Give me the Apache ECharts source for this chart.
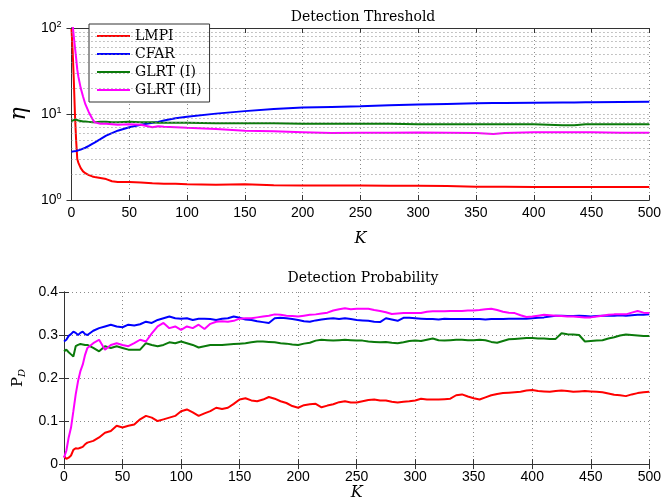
<!DOCTYPE html>
<html>
<head>
<meta charset="utf-8">
<script src="https://cdn.jsdelivr.net/npm/echarts@6/dist/echarts.min.js"></script>
<style>html,body{margin:0;padding:0;background:#fff}#c{width:664px;height:502px}</style>
</head>
<body>
<div id="c"></div>
<script>
// ---------- data ----------
const seriesNames = ['LMPI', 'CFAR', 'GLRT (I)', 'GLRT (II)'];
const titles = ['Detection Threshold', 'Detection Probability'];
const xTicks = [0, 50, 100, 150, 200, 250, 300, 350, 400, 450, 500];
const yTopTicks = [1, 10, 100];
const yTopMinor = [2, 3, 4, 5, 6, 7, 8, 9, 20, 30, 40, 50, 60, 70, 80, 90];
const yBotTicks = [0, 0.1, 0.2, 0.3, 0.4];

// top plot (threshold eta, log scale)
const kTop = [0,1,2,3,4,5,6,8,10,12,15,18,20,25,30,35,40,50,60,70,75,80,90,100,125,150,175,200,225,250,275,300,325,350,365,375,400,425,435,445,450,475,500];
const etaLMPI = [98,55,25,10,5,3.0,2.7,2.35,2.15,2.05,1.95,1.88,1.85,1.8,1.75,1.65,1.62,1.62,1.6,1.57,1.56,1.55,1.54,1.52,1.5,1.52,1.48,1.47,1.47,1.47,1.46,1.46,1.45,1.43,1.43,1.43,1.42,1.42,1.42,1.42,1.42,1.42,1.42];
const etaCFAR = [3.65,3.66,3.68,3.7,3.72,3.75,3.78,3.85,3.95,4.05,4.25,4.5,4.65,5.1,5.6,6.0,6.4,7.0,7.5,7.9,8.1,8.4,8.9,9.3,10.1,10.8,11.4,11.9,12.1,12.3,12.6,12.9,13.1,13.3,13.4,13.4,13.5,13.6,13.6,13.7,13.7,13.8,13.9];
const etaGLRT1 = [8.3,8.4,8.5,8.4,8.6,8.5,8.4,8.3,8.2,8.2,8.1,8.0,8.0,8.1,8.1,8.0,8.0,8.1,8.0,8.0,7.9,7.9,7.9,7.9,7.8,7.8,7.8,7.7,7.7,7.7,7.7,7.6,7.6,7.6,7.6,7.6,7.6,7.4,7.4,7.6,7.6,7.6,7.6];
const etaGLRT2 = [130,110,80,60,45,33,27,20,16,13,10.5,8.8,8.0,7.7,7.7,7.6,7.5,7.6,7.5,7.0,7.2,7.1,7.0,6.9,6.7,6.4,6.3,6.15,6.0,6.05,6.05,6.1,6.05,6.0,5.85,6.0,6.15,6.15,6.15,6.15,6.15,6.05,6.05];

// bottom plot (detection probability)
const kBot = [0,2,4,6,8,10,12,14,16,18,
  20,25,30,35,40,45,50,55,60,65,
  70,75,80,85,90,95,100,105,110,115,
  120,125,130,135,140,145,150,155,160,165,
  170,175,180,185,190,195,200,205,210,215,
  220,225,230,235,240,245,250,255,260,265,
  270,275,280,285,290,295,300,305,310,315,
  320,325,330,335,340,345,350,355,360,365,
  370,375,380,385,390,395,400,405,410,415,
  420,425,430,435,440,445,450,455,460,465,
  470,475,480,485,490,495,500];
const pdLMPI = [0.019,0.012,0.015,0.020,0.033,0.037,0.036,0.038,0.040,0.046,
  0.050,0.054,0.062,0.073,0.077,0.089,0.085,0.089,0.092,0.104,
  0.112,0.108,0.100,0.104,0.108,0.112,0.123,0.127,0.120,0.112,
  0.118,0.123,0.131,0.128,0.131,0.140,0.150,0.153,0.148,0.146,
  0.150,0.156,0.152,0.146,0.142,0.135,0.131,0.137,0.139,0.140,
  0.132,0.136,0.139,0.144,0.146,0.143,0.143,0.146,0.149,0.150,
  0.148,0.148,0.145,0.143,0.145,0.146,0.148,0.152,0.150,0.150,
  0.150,0.151,0.152,0.160,0.162,0.157,0.153,0.150,0.155,0.160,
  0.163,0.165,0.166,0.167,0.168,0.171,0.172,0.170,0.169,0.168,
  0.170,0.171,0.170,0.168,0.169,0.170,0.169,0.168,0.167,0.164,
  0.161,0.160,0.158,0.162,0.165,0.167,0.168];
const pdCFAR = [0.285,0.289,0.298,0.302,0.308,0.305,0.300,0.305,0.308,0.302,
  0.300,0.310,0.316,0.320,0.324,0.320,0.318,0.324,0.322,0.325,
  0.331,0.328,0.335,0.339,0.343,0.339,0.338,0.339,0.335,0.338,
  0.338,0.337,0.335,0.338,0.339,0.343,0.340,0.336,0.335,0.332,
  0.330,0.328,0.339,0.340,0.339,0.337,0.335,0.332,0.331,0.334,
  0.336,0.338,0.339,0.337,0.339,0.337,0.335,0.334,0.333,0.331,
  0.330,0.339,0.336,0.333,0.340,0.340,0.339,0.338,0.337,0.337,
  0.336,0.338,0.337,0.337,0.337,0.337,0.337,0.337,0.336,0.337,
  0.337,0.337,0.338,0.338,0.338,0.338,0.339,0.340,0.341,0.343,
  0.345,0.345,0.344,0.344,0.345,0.344,0.343,0.344,0.345,0.345,
  0.345,0.346,0.345,0.346,0.347,0.347,0.348];
const pdGLRT1 = [0.262,0.266,0.260,0.255,0.250,0.274,0.277,0.279,0.278,0.277,
  0.277,0.270,0.262,0.274,0.270,0.274,0.270,0.266,0.266,0.266,
  0.281,0.277,0.274,0.277,0.283,0.281,0.285,0.281,0.277,0.271,
  0.274,0.277,0.277,0.277,0.278,0.279,0.280,0.281,0.283,0.285,
  0.285,0.284,0.283,0.281,0.280,0.278,0.277,0.280,0.282,0.287,
  0.289,0.288,0.287,0.288,0.289,0.288,0.287,0.287,0.285,0.284,
  0.283,0.284,0.282,0.281,0.283,0.286,0.287,0.286,0.289,0.292,
  0.288,0.287,0.288,0.289,0.289,0.288,0.288,0.289,0.288,0.284,
  0.282,0.286,0.290,0.291,0.292,0.293,0.293,0.292,0.292,0.291,
  0.291,0.304,0.302,0.301,0.300,0.285,0.286,0.287,0.288,0.292,
  0.295,0.299,0.301,0.300,0.299,0.298,0.298];
const pdGLRT2 = [0.015,0.031,0.062,0.085,0.123,0.162,0.193,0.216,0.231,0.254,
  0.270,0.281,0.289,0.266,0.277,0.281,0.277,0.274,0.281,0.289,
  0.285,0.304,0.320,0.328,0.316,0.320,0.312,0.320,0.316,0.324,
  0.314,0.326,0.331,0.332,0.331,0.333,0.338,0.339,0.339,0.341,
  0.343,0.345,0.348,0.347,0.345,0.344,0.343,0.345,0.347,0.348,
  0.350,0.352,0.357,0.360,0.362,0.360,0.361,0.361,0.361,0.358,
  0.356,0.353,0.349,0.350,0.351,0.351,0.351,0.351,0.354,0.355,
  0.355,0.355,0.356,0.356,0.356,0.357,0.357,0.358,0.360,0.361,
  0.358,0.354,0.352,0.351,0.346,0.342,0.343,0.345,0.347,0.346,
  0.345,0.344,0.343,0.343,0.342,0.341,0.341,0.343,0.345,0.347,
  0.348,0.348,0.348,0.352,0.356,0.352,0.351];

// ---------- styling ----------
const colors = ['#ff0000', '#0000ff', '#0b7a0b', '#ff00ff'];
const SERIF = '"DejaVu Serif", "Liberation Serif", serif';
const SANS = '"Liberation Sans", Arial, sans-serif';
const dotted = { color: '#8a8a8a', type: [1, 3], width: 1 };
const gridLine = { show: true, lineStyle: dotted };
const axisLineStyle = { show: true, lineStyle: { color: '#333', width: 1 } };
const tickIn = { show: true, inside: true, length: 5, lineStyle: { color: '#333' } };

const topData = [etaLMPI, etaCFAR, etaGLRT1, etaGLRT2];
const botData = [pdLMPI, pdCFAR, pdGLRT1, pdGLRT2];

function xAx(grid, pos, main, nameGap) {
  return {
    type: 'value', gridIndex: grid, position: pos, min: xTicks[0], max: xTicks[xTicks.length - 1], interval: 50,
    axisLine: axisLineStyle, axisTick: tickIn,
    axisLabel: main ? { show: true, color: '#000', fontSize: 14, fontFamily: SANS, margin: 6 } : { show: false },
    splitLine: main ? gridLine : { show: false },
    name: main ? 'K' : '', nameLocation: 'middle', nameGap: nameGap,
    nameTextStyle: { fontFamily: SERIF, fontStyle: 'italic', fontSize: 16, color: '#000' }
  };
}

const option = {
  animation: false,
  backgroundColor: '#fff',
  title: [
    { text: titles[0], left: 358, top: 5, textAlign: 'center',
      textStyle: { fontFamily: SERIF, fontWeight: 'normal', fontSize: 14, color: '#000' } },
    { text: titles[1], left: 358, top: 266, textAlign: 'center',
      textStyle: { fontFamily: SERIF, fontWeight: 'normal', fontSize: 14, color: '#000' } }
  ],
  legend: {
    data: seriesNames, orient: 'vertical', left: 89, top: 24,
    icon: 'rect', itemWidth: 33, itemHeight: 2, itemGap: 2,
    padding: [4, 8, 4, 8],
    backgroundColor: '#fff', borderColor: '#333', borderWidth: 1,
    textStyle: { fontFamily: SERIF, fontSize: 14, color: '#000', lineHeight: 16 }
  },
  grid: [
    { left: 64, top: 28, width: 588, height: 172, containLabel: false },
    { left: 64, top: 292, width: 588, height: 173, containLabel: false }
  ],
  xAxis: [
    xAx(0, 'bottom', true, 31),
    xAx(1, 'bottom', true, 20),
    xAx(0, 'top', false, 0),
    xAx(1, 'top', false, 0)
  ],
  yAxis: [
    { type: 'log', gridIndex: 0, position: 'left', logBase: 10, min: yTopTicks[0], max: yTopTicks[2], interval: 1,
      axisLine: axisLineStyle, axisTick: tickIn, splitLine: gridLine,
      axisLabel: { color: '#000', margin: 10, fontFamily: SANS,
        formatter: v => '{b|10}{s|' + Math.round(Math.log10(v)) + '}',
        rich: { b: { fontSize: 14, fontFamily: SANS, color: '#000', lineHeight: 16 },
                s: { fontSize: 9, fontFamily: SANS, color: '#000', lineHeight: 8, verticalAlign: 'top' } } },
      name: 'η', nameLocation: 'middle', nameRotate: 90, nameGap: 37,
      nameTextStyle: { fontFamily: SERIF, fontStyle: 'italic', fontSize: 22, color: '#000' } },
    { type: 'value', gridIndex: 1, position: 'left', min: yBotTicks[0], max: yBotTicks[4], interval: 0.1,
      axisLine: axisLineStyle, axisTick: tickIn, splitLine: gridLine,
      axisLabel: { color: '#000', fontSize: 14, fontFamily: SANS, margin: 6 },
      name: '{p|P}{d|D}', nameLocation: 'middle', nameRotate: 90, nameGap: 37,
      nameTextStyle: { color: '#000',
        rich: { p: { fontFamily: SERIF, fontSize: 15, lineHeight: 18, color: '#000' },
                d: { fontFamily: SERIF, fontStyle: 'italic', fontSize: 10, lineHeight: 10, verticalAlign: 'bottom', color: '#000' } } } },
    { type: 'log', gridIndex: 0, position: 'right', logBase: 10, min: 1, max: 100, interval: 1,
      axisLine: axisLineStyle, axisTick: tickIn, axisLabel: { show: false }, splitLine: { show: false } },
    { type: 'value', gridIndex: 1, position: 'right', min: 0, max: 0.4, interval: 0.1,
      axisLine: axisLineStyle, axisTick: tickIn, axisLabel: { show: false }, splitLine: { show: false } }
  ],
  series: []
};

seriesNames.forEach((name, i) => {
  const s = {
    type: 'line', name: name, xAxisIndex: 0, yAxisIndex: 0, z: 3,
    data: kTop.map((k, j) => [k, topData[i][j]]),
    showSymbol: false, symbol: 'none', clip: true,
    lineStyle: { color: colors[i], width: 2 }, itemStyle: { color: colors[i] }
  };
  if (i === 0) {
    // minor log gridlines (top panel)
    s.markLine = { silent: true, symbol: 'none', label: { show: false }, animation: false,
      lineStyle: dotted, emphasis: { disabled: true },
      data: yTopMinor.map(v => ({ yAxis: v })) };
  }
  option.series.push(s);
});
seriesNames.forEach((name, i) => {
  option.series.push({
    type: 'line', name: name, xAxisIndex: 1, yAxisIndex: 1, z: 3,
    data: kBot.map((k, j) => [k, botData[i][j]]),
    showSymbol: false, symbol: 'none', clip: true,
    lineStyle: { color: colors[i], width: 2 }, itemStyle: { color: colors[i] }
  });
});

const chart = echarts.init(document.getElementById('c'), null, { renderer: 'canvas' });
chart.setOption(option);
</script>
</body>
</html>
